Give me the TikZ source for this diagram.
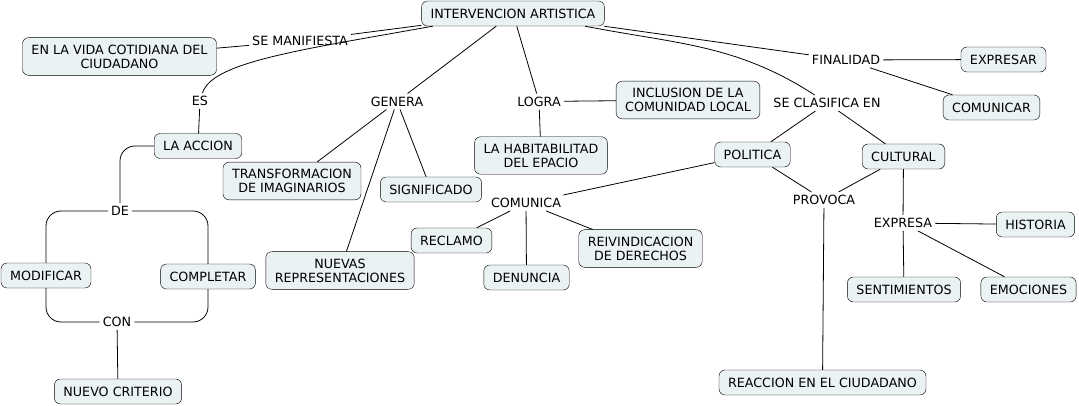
\documentclass[tikz,border=0pt]{standalone}
\usepackage{fontspec}
\setmainfont{DejaVu Sans}
\definecolor{boxfill}{RGB}{235,242,244}
\newcommand{\mapfont}{\fontsize{12.7}{14}\selectfont}
\tikzset{
    concept/.style={draw, rounded corners=6pt, fill=boxfill, align=center,
        inner xsep=9pt, inner ysep=7pt, minimum height=25pt, font=\mapfont},
    phrase/.style={inner sep=3pt, align=center, font=\mapfont},
    link/.style={line width=0.8pt}
}

\begin{document}
\begin{tikzpicture}[x=1pt, y=-1pt]
    \useasboundingbox (0,0) rectangle (1079,406);

    % concepts
    \node[concept] (ia) at (513,13.5) {INTERVENCION ARTISTICA};
    \node[concept] (vida) at (119.5,56.5) {EN LA VIDA COTIDIANA DEL\\CIUDADANO};
    \node[concept] (acc) at (198,146) {LA ACCION};
    \node[concept] (trans) at (292,181) {TRANSFORMACION\\DE IMAGINARIOS};
    \node[concept] (sig) at (431,189.5) {SIGNIFICADO};
    \node[concept] (nuevas) at (340,270.5) {NUEVAS\\REPRESENTACIONES};
    \node[concept] (hab) at (541,155.5) {LA HABITABILITAD\\DEL EPACIO};
    \node[concept] (incl) at (688,100) {INCLUSION DE LA\\COMUNIDAD LOCAL};
    \node[concept] (expr) at (1003.5,59.5) {EXPRESAR};
    \node[concept] (comu) at (991.5,107.5) {COMUNICAR};
    \node[concept] (pol) at (752.5,154.5) {POLITICA};
    \node[concept] (cult) at (903.5,156.5) {CULTURAL};
    \node[concept] (hist) at (1035.5,224.5) {HISTORIA};
    \node[concept] (sent) at (904,289.5) {SENTIMIENTOS};
    \node[concept] (emoc) at (1028.5,289.5) {EMOCIONES};
    \node[concept] (reac) at (822.5,382.5) {REACCION EN EL CIUDADANO};
    \node[concept] (recl) at (451.5,240.5) {RECLAMO};
    \node[concept] (denu) at (526.5,277.5) {DENUNCIA};
    \node[concept] (reiv) at (640.5,248.5) {REIVINDICACION\\DE DERECHOS};
    \node[concept] (modi) at (46,275.5) {MODIFICAR};
    \node[concept] (comp) at (208,276.5) {COMPLETAR};
    \node[concept] (crit) at (118,391.5) {NUEVO CRITERIO};

    % linking phrases
    \node[phrase] (sm) at (300,41) {SE MANIFIESTA};
    \node[phrase] (es) at (200,101) {ES};
    \node[phrase] (gen) at (397,101.5) {GENERA};
    \node[phrase] (log) at (539,101.5) {LOGRA};
    \node[phrase] (fin) at (846,60) {FINALIDAD};
    \node[phrase] (scl) at (827,103) {SE CLASIFICA EN};
    \node[phrase] (com) at (526,203) {COMUNICA};
    \node[phrase] (prov) at (824,200) {PROVOCA};
    \node[phrase] (exp) at (903,223) {EXPRESA};
    \node[phrase] (de) at (120,211) {DE};
    \node[phrase] (con) at (117,322) {CON};

    \draw[link]
    (ia) -- (sm)
    (sm) -- (vida)
    (ia.189) .. controls (300,50) and (212,62) .. (es)
    (es) -- (acc)
    (ia) -- (gen)
    (gen) -- (trans)
    (gen) -- (sig)
    (gen) -- (nuevas)
    (ia) -- (log)
    (log) -- (incl)
    (log) -- (hab)
    (ia) -- (fin)
    (fin) -- (expr)
    (fin) -- (comu)
    (ia.-10) to[out=-11, in=147] (scl)
    (scl) -- (pol)
    (scl) -- (cult)
    ;

    \draw[link]
    (pol) -- (com)
    (com) -- (recl)
    (com) -- (denu)
    (com) -- (reiv)
    (pol) -- (prov)
    (cult) -- (prov)
    (prov) -- (reac)
    (cult) -- (exp)
    (exp) -- (hist)
    (exp) -- (sent)
    (exp) -- (emoc)
    ;

    \draw[link, rounded corners=15pt]
    (acc.west) -| (de)
    (de.west) -| (modi)
    (de.east) -| (comp)
    (modi) |- (con.west)
    (comp) |- (con.east)
    ;
    \draw[link] (con) -- (crit);

\end{tikzpicture}
\end{document}
